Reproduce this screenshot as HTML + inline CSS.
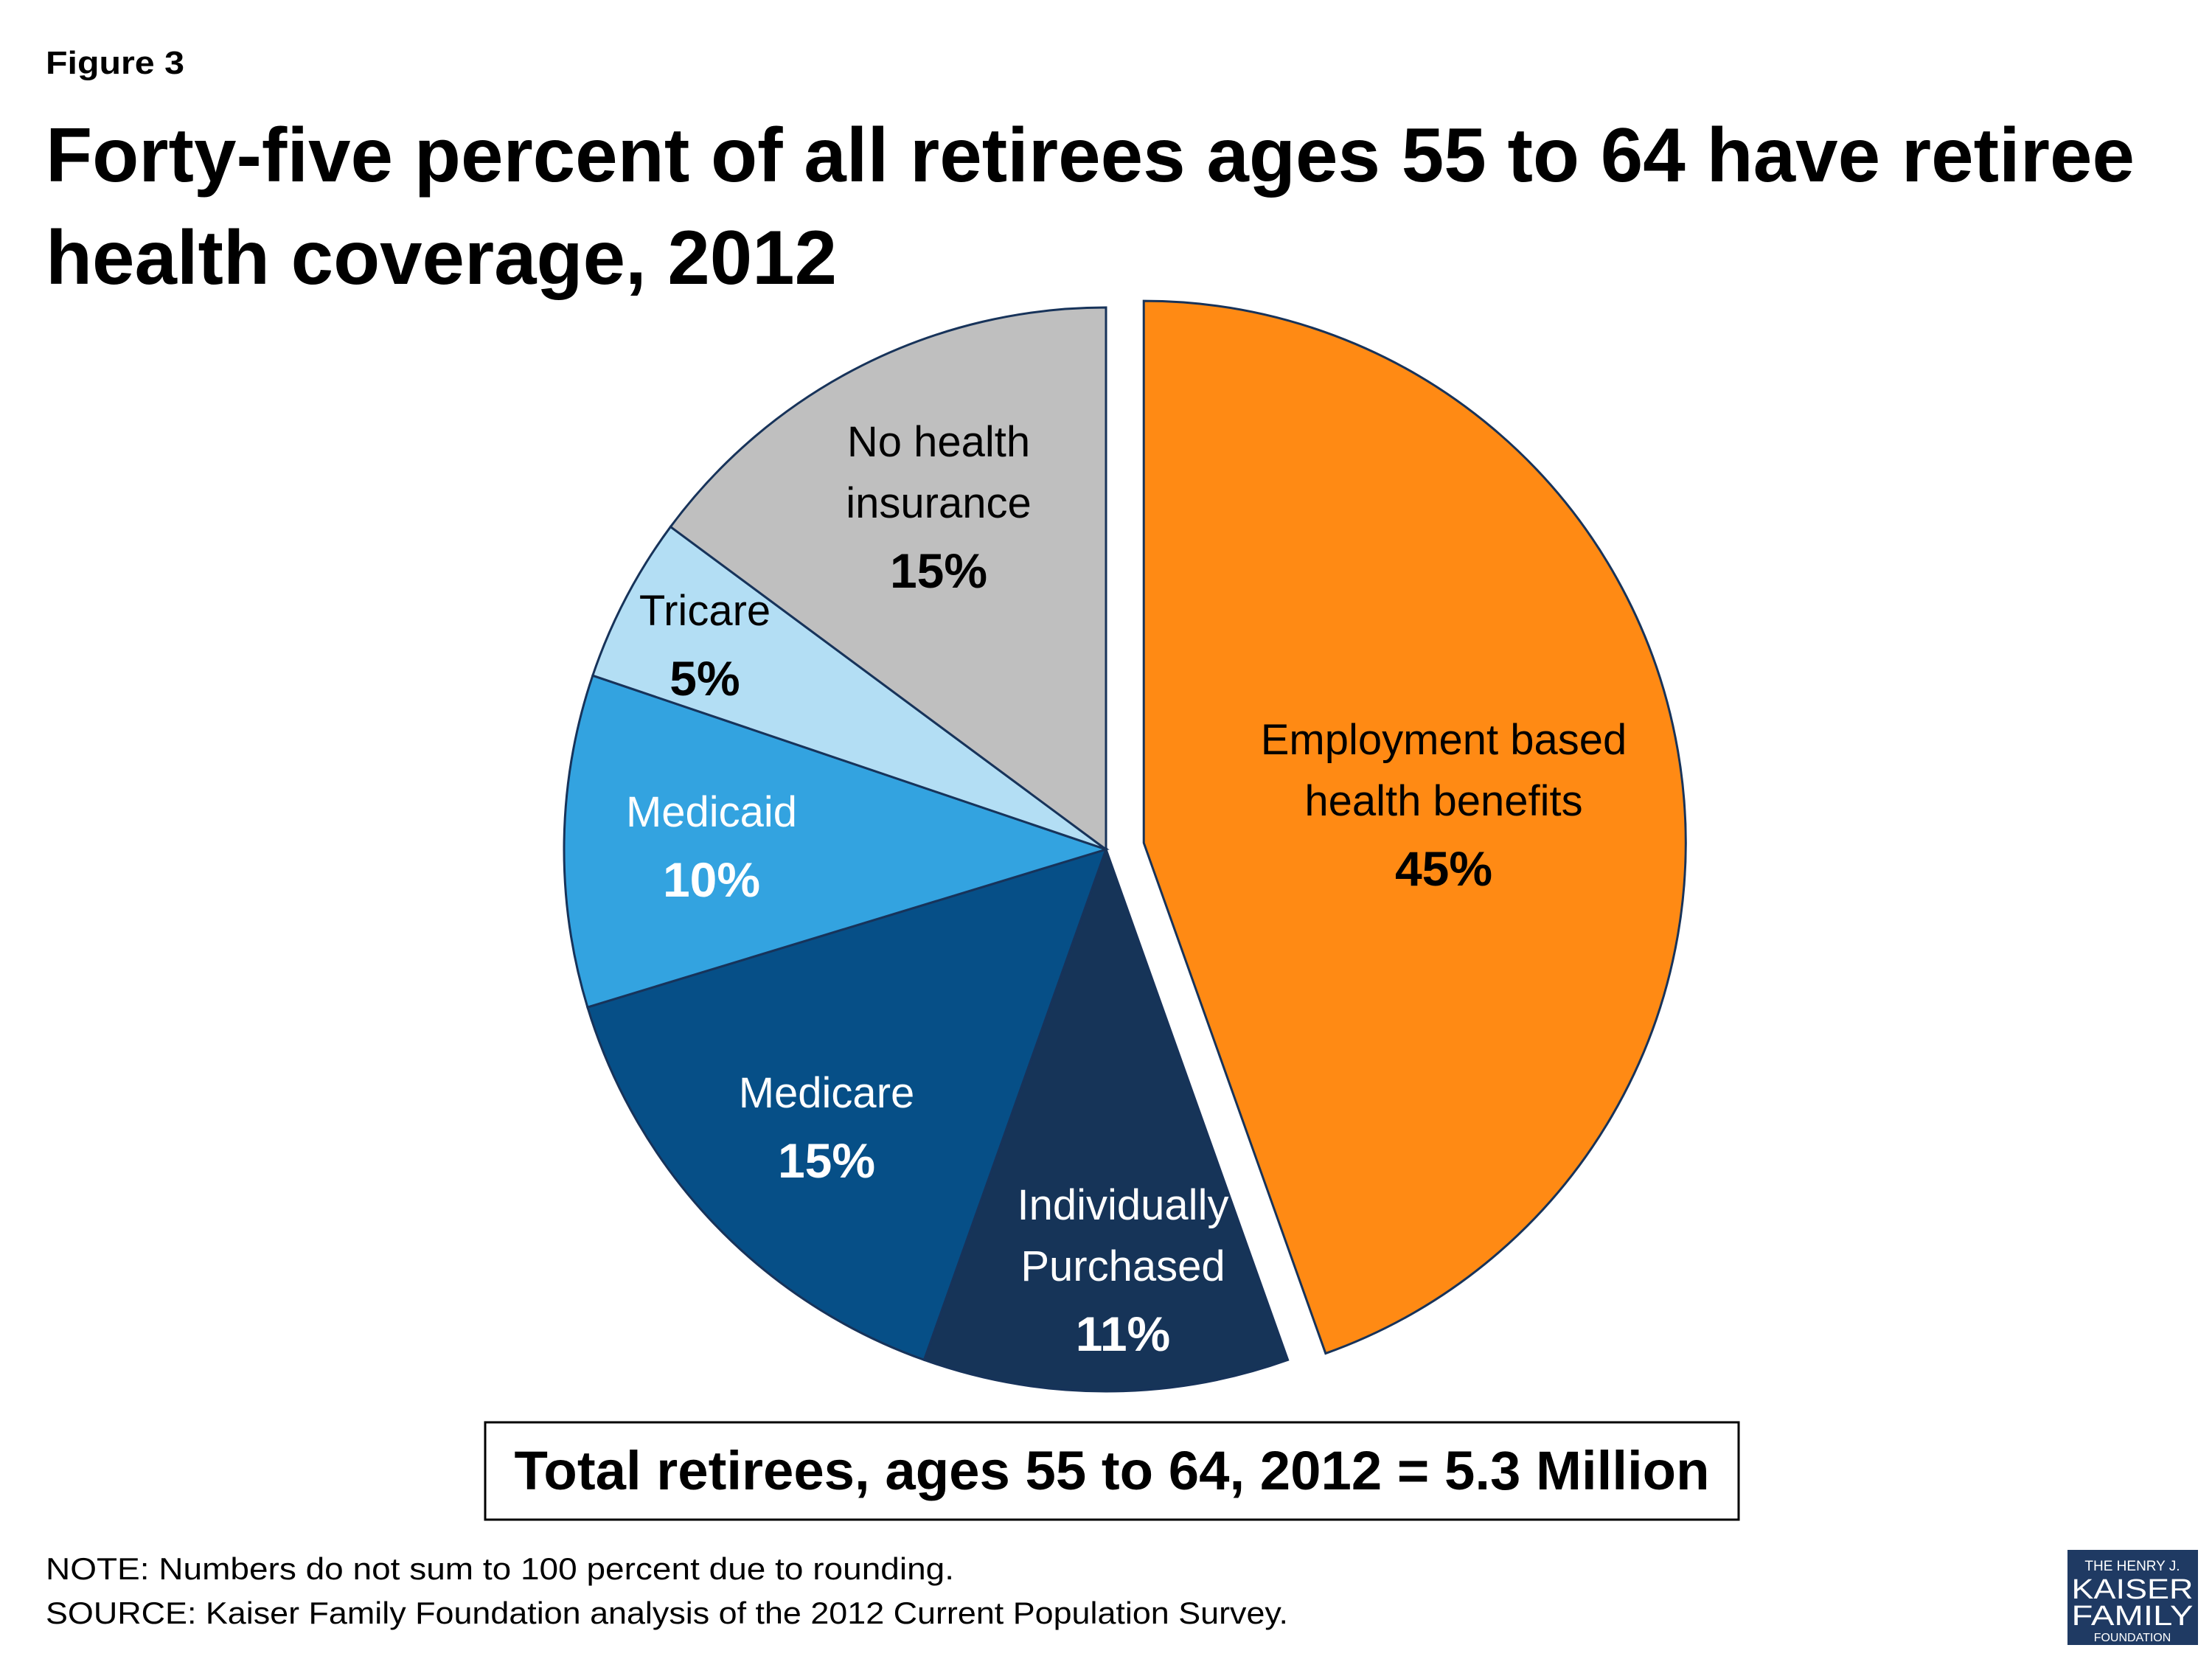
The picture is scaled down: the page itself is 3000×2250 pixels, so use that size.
<!DOCTYPE html>
<html><head><meta charset="utf-8"><style>
html,body{margin:0;padding:0;background:#fff}
svg{display:block}
text{font-family:"Liberation Sans",sans-serif}
</style></head><body>
<svg id="chart" width="3000" height="2250" viewBox="0 0 3000 2250">
<text x="62" y="100" font-size="44" font-weight="bold" textLength="188" lengthAdjust="spacingAndGlyphs">Figure 3</text>
<text x="62" y="246" font-size="104" font-weight="bold" textLength="2833" lengthAdjust="spacingAndGlyphs">Forty-five percent of all retirees ages 55 to 64 have retiree</text>
<text x="62" y="385" font-size="104" font-weight="bold" textLength="1073" lengthAdjust="spacingAndGlyphs">health coverage, 2012</text>
<g id="slices"></g>
<g id="labels"></g>
<rect x="658" y="1929" width="1700" height="132" fill="#fff" stroke="#000" stroke-width="3"/>
<text x="1508" y="2020" font-size="74" font-weight="bold" text-anchor="middle" textLength="1621" lengthAdjust="spacingAndGlyphs">Total retirees, ages 55 to 64, 2012 = 5.3 Million</text>
<text x="62" y="2142" font-size="42" textLength="1232" lengthAdjust="spacingAndGlyphs">NOTE: Numbers do not sum to 100 percent due to rounding.</text>
<text x="62" y="2202" font-size="42" textLength="1685" lengthAdjust="spacingAndGlyphs">SOURCE: Kaiser Family Foundation analysis of the 2012 Current Population Survey.</text>
<g>
<rect x="2804" y="2102" width="177" height="129" fill="#1f3a63"/>
<text x="2892" y="2130" font-size="19" fill="#fff" text-anchor="middle" font-family="Liberation Serif">THE HENRY J.</text>
<text x="2892" y="2168" font-size="38" fill="#fff" text-anchor="middle" font-family="Liberation Serif" textLength="165" lengthAdjust="spacingAndGlyphs">KAISER</text>
<text x="2892" y="2204" font-size="38" fill="#fff" text-anchor="middle" font-family="Liberation Serif" textLength="165" lengthAdjust="spacingAndGlyphs">FAMILY</text>
<text x="2892" y="2226" font-size="16" fill="#fff" text-anchor="middle" font-family="Liberation Serif">FOUNDATION</text>
</g>
</svg>
<script>
const categories = ["Employment based health benefits","Individually Purchased","Medicare","Medicaid","Tricare","No health insurance"];
const values = [45, 11, 15, 10, 5, 15];
const valueLabels = ["45%","11%","15%","10%","5%","15%"];
const colors = ["#FF8A14","#163458","#064F87","#33A3E0","#B3DEF4","#BFBFBF"];
const labelLines = [["Employment based","health benefits"],["Individually","Purchased"],["Medicare"],["Medicaid"],["Tricare"],["No health","insurance"]];
const labelColors = ["#000","#fff","#fff","#fff","#000","#000"];
const explode = [52,0,0,0,0,0];
// layout only: label anchor (x, first baseline)
const labelAnchor = [[1958,1023],[1523,1654],[1121,1502],[965,1121],[956,848],[1273,619]];
const cx=1500, cy=1152, R=735;
const NS="http://www.w3.org/2000/svg";
const total=values.reduce((a,b)=>a+b,0);
function pt(a,r,ox,oy){return [ox+r*Math.sin(a), oy-r*Math.cos(a)];}
const gS=document.getElementById('slices'), gL=document.getElementById('labels');
let cum=0;
values.forEach((v,i)=>{
  const a0=cum/total*2*Math.PI, a1=(cum+v)/total*2*Math.PI; cum+=v;
  const mid=(a0+a1)/2;
  const ox=cx+explode[i]*Math.sin(mid), oy=cy-explode[i]*Math.cos(mid);
  const p0=pt(a0,R,ox,oy), p1=pt(a1,R,ox,oy);
  const large=(a1-a0)>Math.PI?1:0;
  const path=document.createElementNS(NS,'path');
  path.setAttribute('d',`M${ox},${oy}L${p0[0]},${p0[1]}A${R},${R} 0 ${large} 1 ${p1[0]},${p1[1]}Z`);
  path.setAttribute('fill',colors[i]);
  path.setAttribute('stroke','#17335a');
  path.setAttribute('stroke-width','3');
  
  
  gS.appendChild(path);
  const lines=labelLines[i];
  const [lx,ly]=labelAnchor[i];
  lines.concat([valueLabels[i]]).forEach((s,k)=>{
    const bold=k===lines.length;
    const y = bold ? ly+(k-1)*83+95 : ly+k*83;
    const t=document.createElementNS(NS,'text');
    t.setAttribute('x',lx); t.setAttribute('y',y);
    t.setAttribute('text-anchor','middle');
    t.setAttribute('font-size', bold?66:58);
    if(bold) t.setAttribute('font-weight','bold');
    t.setAttribute('fill',labelColors[i]);
    
    
    t.textContent=s;
    gL.appendChild(t);
  });
});
</script>
</body></html>
